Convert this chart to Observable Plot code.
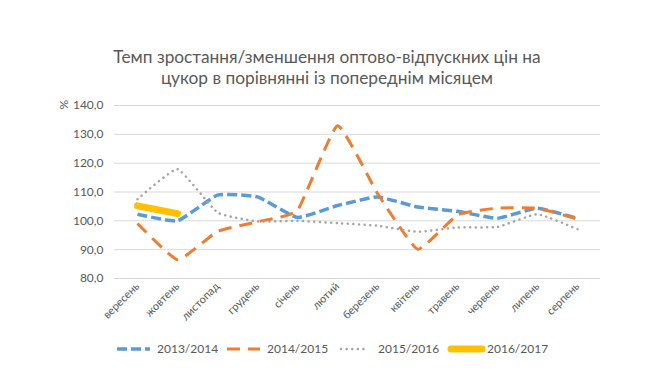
<!DOCTYPE html>
<html>
<head>
<meta charset="utf-8">
<script src="https://cdn.jsdelivr.net/npm/d3@7"></script>
<script src="https://cdn.jsdelivr.net/npm/@observablehq/plot@0.6"></script>
<style>
  body { margin: 0; background: #fff; font-family: Lato, "Noto Sans", sans-serif; }
  #wrap { width: 660px; height: 390px; position: relative; overflow: hidden; }
  #title { padding-top: 46px; height: 41px; text-align: center; font-size: 17.3px; line-height: 21px; color: #595959; margin-left: -6px; }
  #legend { display: block; }
</style>
</head>
<body>
<div id="wrap">
  <div id="title">Темп зростання/зменшення оптово-відпускних цін на<br>цукор в порівнянні із попереднім місяцем</div>
  <div id="chart"></div>
  <svg id="legend" width="660" height="26"></svg>
</div>
<script>
const months = ["вересень","жовтень","листопад","грудень","січень","лютий","березень","квітень","травень","червень","липень","серпень"];
const seriesNames = ["2013/2014","2014/2015","2015/2016","2016/2017"];
const s2013 = [102.3, 100.0, 108.9, 108.3, 101.2, 105.3, 108.3, 104.8, 103.3, 100.9, 104.4, 100.8];
const s2014 = [99.1, 86.5, 96.3, 99.7, 103.7, 133.0, 109.5, 90.2, 102.1, 104.4, 104.4, 100.6];
const s2015 = [107.5, 117.9, 102.9, 99.8, 100.0, 99.2, 98.3, 96.2, 97.7, 97.9, 102.3, 97.1];
const s2016 = [105.2, 102.5];
const yTicks = [80, 90, 100, 110, 120, 130, 140];

const colors = ["#5B9BD5", "#ED7D31", "#A5A5A5", "#FFC000"];
const widths = [3.5, 3, 2.5, 7];
const dashes = ["10,4", "13,8", "0.1,5.5", null];
const caps = ["butt", "butt", "round", "round"];

const allSeries = [s2013, s2014, s2015, s2016];
const rows = [];
allSeries.forEach((arr, si) => arr.forEach((v, i) => rows.push({series: seriesNames[si], month: months[i], value: v})));

const fmt = d => d.toFixed(1).replace(".", ",");

const lineMarks = seriesNames.map((name, si) =>
  Plot.line(rows.filter(r => r.series === name), {
    x: "month", y: "value",
    stroke: colors[si], strokeWidth: widths[si],
    strokeDasharray: dashes[si], strokeLinecap: caps[si], strokeLinejoin: "round",
    curve: "cardinal", tension: 0.6
  })
);

const chart = Plot.plot({
  width: 660,
  height: 250,
  marginTop: 18,
  marginLeft: 114,
  marginRight: 60,
  marginBottom: 59,
  style: {fontFamily: "Lato, 'Noto Sans', sans-serif", fontSize: "12px", color: "#595959", background: "#fff"},
  x: {type: "point", domain: months, padding: 0.5},
  y: {domain: [80, 140]},
  marks: [
    Plot.gridY(yTicks, {stroke: "#d9d9d9", strokeOpacity: 1, strokeWidth: 1}),
    Plot.axisY(yTicks, {tickSize: 0, tickPadding: 11, tickFormat: fmt, label: null, fill: "#595959", fontSize: 12}),
    Plot.axisX(months, {tickSize: 0, tickRotate: -45, tickPadding: 6, label: null, fill: "#595959", fontSize: 11}),
    Plot.text(["%"], {frameAnchor: "top-left", dx: -55, dy: 4, rotate: -90, fill: "#595959", fontSize: 12}),
    ...lineMarks
  ]
});
document.getElementById("chart").appendChild(chart);

const legend = d3.select("#legend");
const swX = [117, 227, 338, 448];
const swW = [33, 33, 32, 37];
const txX = [157, 267, 378, 487];
seriesNames.forEach((name, si) => {
  legend.append("line")
    .attr("x1", swX[si] + (caps[si] === "round" ? 3 : 0)).attr("x2", swX[si] + swW[si] - (caps[si] === "round" ? 3 : 0))
    .attr("y1", 12).attr("y2", 12)
    .attr("stroke", colors[si]).attr("stroke-width", widths[si])
    .attr("stroke-dasharray", dashes[si]).attr("stroke-linecap", caps[si]);
  legend.append("text")
    .attr("x", txX[si]).attr("y", 16)
    .attr("fill", "#595959").attr("font-size", 12)
    .attr("font-family", "Lato, 'Noto Sans', sans-serif")
    .text(name);
});
</script>
</body>
</html>
